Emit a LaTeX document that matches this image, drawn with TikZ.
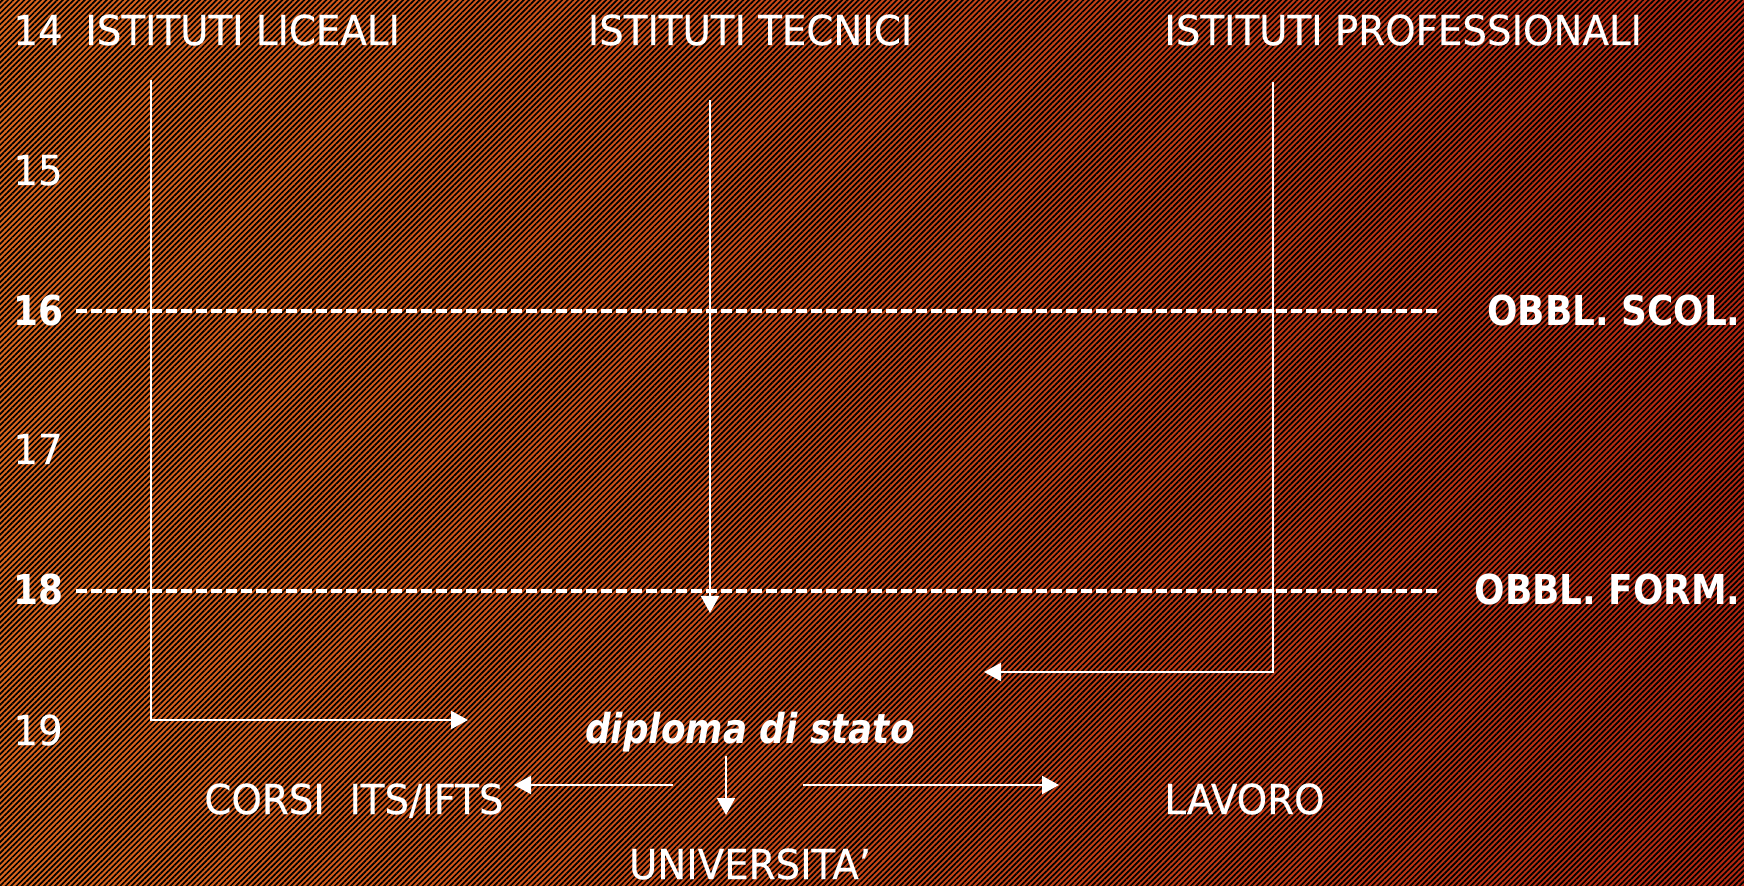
\documentclass[tikz,border=0pt]{standalone}
\usepackage{fontspec}
\setmainfont{DejaVu Sans}[FakeStretch=0.94,FakeBold=0.35,BoldFont={DejaVu Sans Bold},BoldItalicFont={DejaVu Sans Bold Oblique},BoldFeatures={FakeStretch=0.87,FakeBold=0},BoldItalicFeatures={FakeStretch=0.87,FakeBold=0}]
\usetikzlibrary{arrows.meta,patterns.meta}
\definecolor{bgA}{RGB}{218,102,30}
\definecolor{bgB}{RGB}{198,68,22}
\definecolor{bgC}{RGB}{178,40,18}
\tikzset{
  lbl/.style={inner sep=0pt,text=white,font=\fontsize{20.6}{24}\selectfont},
  blbl/.style={lbl,font=\fontsize{20.6}{24}\selectfont\bfseries},
  flow/.style={draw=white,line width=1.1pt,-{Triangle[length=8.5pt,width=9pt]}},
  limit/.style={draw=white,line width=1.6pt,dash pattern=on 5.5pt off 2pt}
}
\begin{document}
\begin{tikzpicture}[x=0.5pt,y=-0.5pt]
\useasboundingbox (0,0) rectangle (1744,886);
\shade[left color=bgA,middle color=bgB,right color=bgC] (0,0) rectangle (1744,886);
\fill[pattern={Lines[angle=45,distance=1.94pt,line width=0.85pt]},pattern color=black] (0,0) rectangle (1744,886);
% ages
\node[lbl,anchor=base west] (a14) at (13,45) {14};
\node[lbl,anchor=base west] (a15) at (13,185) {15};
\node[blbl,anchor=base west] (a16) at (13,326) {16};
\node[lbl,anchor=base west] (a17) at (13,464) {17};
\node[blbl,anchor=base west] (a18) at (13,604) {18};
\node[lbl,anchor=base west] (a19) at (13,745) {19};
% schools
\node[lbl,anchor=base west] (lic) at (85,45) {ISTITUTI LICEALI};
\node[lbl,anchor=base] (tec) at (750,45) {ISTITUTI TECNICI};
\node[lbl,anchor=base west] (pro) at (1164,45) {ISTITUTI PROFESSIONALI};
% obligations
\node[blbl,anchor=base east] (scol) at (1741,326) {OBBL. SCOL.};
\node[blbl,anchor=base east] (form) at (1741,604) {OBBL. FORM.};
% outcome
\node[lbl,anchor=base,font=\fontsize{20.6}{24}\selectfont\bfseries\itshape] (dip) at (750,743) {diploma di stato};
\node[lbl,anchor=base west] (its) at (204,814) {CORSI\ \ ITS/IFTS};
\node[lbl,anchor=base west] (lav) at (1164,814) {LAVORO};
\node[lbl,anchor=base] (uni) at (750,879) {UNIVERSITA’};
% dashed limits
\coordinate (s1) at (76,311);  \coordinate (s2) at (1438,311);
\coordinate (f1) at (76,591);  \coordinate (f2) at (1438,591);
\draw[limit] (s1) -- (s2);
\draw[limit] (f1) -- (f2);
% paths
\coordinate (l0) at (151,80); \coordinate (l1) at (151,720); \coordinate (l2) at (468,720);
\coordinate (t0) at (710,100); \coordinate (t1) at (710,613);
\coordinate (p0) at (1273,82); \coordinate (p1) at (1273,672); \coordinate (p2) at (984,672);
\draw[flow] (l0) -- (l1) -- (l2);
\draw[flow] (t0) -- (t1);
\draw[flow] (p0) -- (p1) -- (p2);
% diploma branches
\coordinate (d0) at (726,756); \coordinate (d1) at (726,815);
\coordinate (dl0) at (673,785); \coordinate (dl1) at (514,785);
\coordinate (dr0) at (803,785); \coordinate (dr1) at (1059,785);
\draw[flow] (d0) -- (d1);
\draw[flow] (dl0) -- (dl1);
\draw[flow] (dr0) -- (dr1);
\end{tikzpicture}
\end{document}
